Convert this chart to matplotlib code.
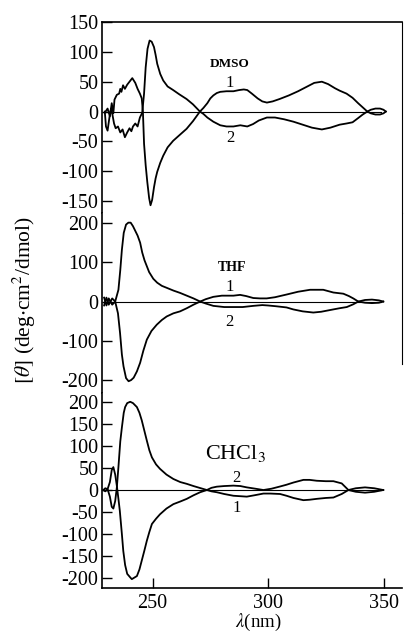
import numpy as np
import matplotlib
matplotlib.use("Agg")
import matplotlib.pyplot as plt

plt.rcParams['font.family'] = ['Liberation Serif', 'DejaVu Serif']
plt.rcParams['mathtext.fontset'] = 'stix'
plt.rcParams['axes.unicode_minus'] = False

# DMSO : courbe 1 et courbe 2
dmso_x1 = [229.3, 230.5, 231.5, 232.3, 233, 233.5, 234.5, 235.5, 236, 236.5, 237.2, 238, 239, 240, 241.2,
           242.5, 243.5, 244.5, 245.3, 245.8, 246.3, 247, 247.7, 248.5, 249.1, 249.8, 250.6, 251.3, 252,
           253.3, 254.6, 256.5, 258.9, 261.5, 264.7, 267.5, 270.5, 272, 273.7, 275, 276.3, 277.8, 279.3,
           282, 285, 287.5, 289.5, 291, 293, 295.5, 297.5, 299.5, 302, 305, 309, 313, 317, 320, 323.3,
           326, 329, 331, 334, 336.6, 339, 341, 343, 344.5, 346.5, 348.5, 350, 351]
dmso_y1 = [-2, 5, -8, 14, -3, 20, 28, 30, 38, 33, 44, 38, 45, 50, 56,
           48, 38, 30, 22, 0, -54, -90, -118, -145, -157, -148, -127, -112, -101,
           -86, -74, -60, -49, -40, -29, -16, 0, 6, 14, 22, 27, 31, 33,
           34, 34, 36, 37, 36, 30, 22, 17, 15, 17, 21, 27, 34, 42, 48, 50,
           46, 39, 35, 30, 23, 14, 7, 0, 3, 5, 5, 3, 0]
dmso_x2 = [229.3, 229.8, 230.5, 231.3, 232, 232.6, 233.3, 234, 235, 236, 237, 238, 239, 240, 240.8,
           241.5, 242.5, 243.5, 244.5, 245.5, 246.3, 247, 247.8, 248.7, 249.6, 250.6, 251.3, 252,
           253.3, 254.6, 256.5, 258.9, 261.5, 264.7, 267.5, 270.5, 272, 273.7, 276.3, 279.3, 282,
           285, 288, 291, 293.5, 296, 299.5, 303, 307, 311, 315, 319, 323.3, 327, 331, 334, 336.6,
           339, 341, 343, 344.5, 346.5, 348.5, 350, 351]
dmso_y2 = [0, -25, -32, -10, 5, -5, -20, -28, -25, -35, -30, -43, -35, -28, -33,
           -25, -20, -25, -10, -2, 30, 74, 105, 119, 117, 108, 95, 80,
           63, 52, 42, 36, 29, 21, 12, 0, -4, -10, -17, -23, -25,
           -25, -23, -25, -21, -15, -10, -10, -13, -17, -22, -27, -30, -27, -22, -20, -18,
           -11, -5, 0, -3, -5, -5, -3, 0]

# THF
thf_x1 = [229, 230, 231, 232.5, 233.8, 235, 235.9, 236.7, 237.4, 238.5, 239.6, 240.7, 241.8, 243.2,
          244.6, 246, 247.5, 249.5, 251.8, 254, 256.1, 259, 261.9, 264.8, 267.7, 270.6, 273, 276.3,
          280, 285, 287.9, 290.5, 293.6, 296.5, 299.4, 303, 308.1, 313, 318.2, 323.9, 328.3, 332.6,
          335, 336.9, 339.1, 342, 345, 348, 349.9]
thf_y1 = [10, -10, 8, -8, 0, -30, -80, -135, -165, -195, -203, -200, -194, -178,
          -156, -125, -97, -75, -59, -47, -38, -30, -25, -17, -8, 0, 6, 12,
          15, 15, 17, 14, 9, 8, 8, 11, 18, 25, 30, 30, 23, 20,
          14, 8, 0, 4, 5, 3, 0]
thf_x2 = [229, 230, 231, 232.5, 233.8, 235.2, 236, 236.7, 237.5, 238.5, 239.5, 240.5, 241.5, 242.5,
          243.5, 244.6, 245.5, 246.5, 247.5, 248.5, 250.3, 252, 254, 256.1, 259, 261.9, 264.8,
          267.7, 270.6, 273, 276.3, 281, 285, 289, 293.6, 297.5, 300, 303.5, 308, 310.9, 315,
          319.6, 323, 328.3, 331, 334.1, 336.9, 339.1, 342, 345, 348, 349.9]
thf_y2 = [-10, 10, -8, 8, 0, 30, 80, 132, 175, 196, 201, 201, 192, 180,
          168, 150, 125, 105, 90, 75, 58, 48, 40, 35, 28, 22, 15,
          8, 0, -5, -11, -14, -14, -14, -11, -9, -10, -12, -15, -20, -25,
          -28, -26, -20, -17, -14, -7, 0, -3, -4, -3, 0]

# CHCl3
chcl3_x1 = [228.7, 229.5, 230.5, 231.5, 232.3, 233, 233.8, 234.5, 235.2, 236, 236.7, 237.5, 238.1, 239,
            240.3, 241.5, 243.2, 244.3, 245.3, 246.4, 247.5, 248.6, 249.7, 251.5, 253.2, 256, 259,
            262, 264.8, 267.7, 270.6, 273.5, 275.5, 277.8, 281, 285, 290.8, 294, 298, 301, 305.2,
            308, 311, 315.3, 318, 321.1, 325, 328.3, 331.9, 334.8, 338, 342, 346, 349.9]
chcl3_y1 = [0, 4, 2, -15, -38, -42, -25, 5, 52, 110, 142, 175, 188, 197,
            200, 197, 188, 175, 158, 135, 112, 90, 74, 58, 48, 35, 25,
            18, 14, 9, 4.5, 0, -3, -5, -9, -13, -15, -12, -8, -8, -9,
            -13, -18, -23, -22, -20, -18, -17, -9, 0, 4, 6, 4, 0]
chcl3_x2 = [228.7, 229.5, 230.5, 231.5, 232.3, 233, 233.8, 234.5, 235.2, 235.8, 236.7, 237.3, 238.1,
            239, 240.3, 241, 243.2, 244.3, 245.3, 246.4, 247.5, 248.6, 249.7, 251.5, 253.2, 256, 259,
            262, 264.8, 267.7, 270.6, 273.5, 275.5, 277.8, 281, 285, 288, 290.8, 294.5, 298, 301.5,
            305.2, 308, 311, 315.3, 318, 321.1, 325, 328.3, 331.9, 334.8, 338, 342, 346, 349.9]
chcl3_y2 = [0, -3, 2, 18, 45, 52, 35, 10, -20, -47, -100, -138, -170,
            -190, -198, -202, -195, -180, -160, -138, -115, -95, -77, -65, -55, -42, -32,
            -26, -20, -12, -5, 0, 5, 7.6, 9, 10, 9, 6, 3, 0, 3,
            8, 12, 17, 23, 23, 21, 20, 20, 15, 0, -4, -6, -4, 0]

zero_x = [229, 349]

fig = plt.figure(figsize=(4.04, 6.34), dpi=100)
ax1 = fig.add_axes([0.2537, 0.664, 0.7413, 0.3013])
ax2 = fig.add_axes([0.2537, 0.3801, 0.7413, 0.2839])
ax3 = fig.add_axes([0.2537, 0.0726, 0.7413, 0.3076])

panneaux = [
    (ax1, dmso_x1, dmso_y1, dmso_x2, dmso_y2, (-170, 150), [-150, -100, -50, 0, 50, 100, 150]),
    (ax2, thf_x1, thf_y1, thf_x2, thf_y2, (-233, 225.5), [-200, -100, 0, 100, 200]),
    (ax3, chcl3_x1, chcl3_y1, chcl3_x2, chcl3_y2, (-222, 220), [-200, -150, -100, -50, 0, 50, 100, 150, 200]),
]
for ax, x1, y1, x2, y2, ylim, yt in panneaux:
    ax.plot(zero_x, [0, 0], color='black', lw=0.8)
    ax.plot(x1, y1, color='black', lw=1.3)
    ax.plot(x2, y2, color='black', lw=1.3)
    ax.set_xlim(228.3, 358)
    ax.set_ylim(*ylim)
    ax.set_yticks(yt)
    ax.set_yticklabels([str(v) for v in yt])
    ax.tick_params(axis='y', direction='in', length=7, width=1, labelsize=14.5, pad=3)
    ax.spines['left'].set_linewidth(1.2)
    ax.spines['bottom'].set_visible(False)
    ax.spines['top'].set_visible(False)
    ax.spines['right'].set_visible(False)
    ax.set_xticks([])

ax1.spines['top'].set_visible(True)
ax1.spines['top'].set_linewidth(1.2)
ax1.spines['right'].set_visible(True)
ax2.spines['right'].set_visible(True)
ax2.spines['right'].set_bounds(-160, 225.5)

ax3.spines['bottom'].set_visible(True)
ax3.spines['bottom'].set_linewidth(1.2)
ax3.set_xticks([250, 300, 350])
ax3.set_xticklabels(['250', '300', '350'])
ax3.tick_params(axis='x', direction='in', length=7, width=1, labelsize=14.5, pad=4)

ax1.text(283.5, 80, 'DMSO', fontsize=9.5, fontweight='bold', ha='center', va='center')
ax1.text(283.5, 48, '1', fontsize=12, ha='center', va='center')
ax1.text(283.8, -44, '2', fontsize=12, ha='center', va='center')
ax2.text(284.4, 87, 'THF', fontsize=10, fontweight='bold', ha='center', va='center')
ax2.text(283.5, 38, '1', fontsize=12, ha='center', va='center')
ax2.text(283.1, -51, '2', fontsize=12, ha='center', va='center')
ax3.text(285.7, 83, r'CHCl$_3$', fontsize=16, ha='center', va='center')
ax3.text(286.2, 28, '2', fontsize=12, ha='center', va='center')
ax3.text(286.6, -40, '1', fontsize=12, ha='center', va='center')

fig.text(24/404, 1 - 300/634, r'$[\theta]$ (deg$\cdot$cm$^2$/dmol)', rotation=90,
         ha='center', va='center', fontsize=15.5)
fig.text(258/404, 1/634, r'$\lambda$(nm)', ha='center', va='bottom', fontsize=13.5)

fig.savefig('out.png', dpi=100)
